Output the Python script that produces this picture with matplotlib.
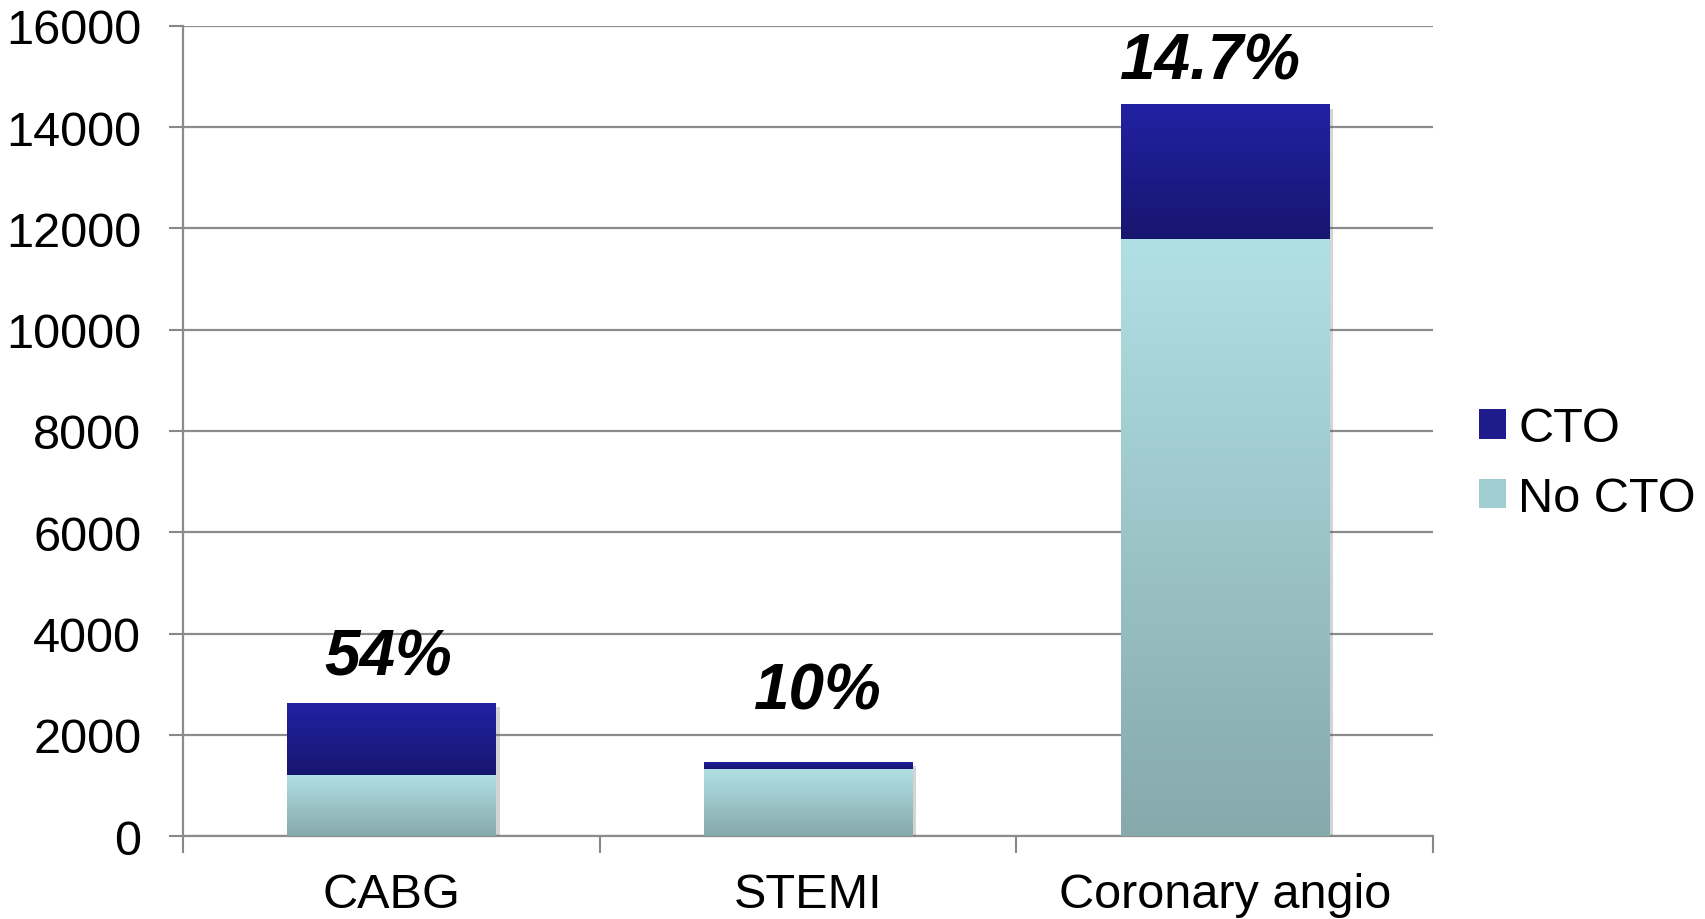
import numpy as np
import matplotlib.pyplot as plt
from matplotlib import patheffects as pe
from matplotlib.colors import LinearSegmentedColormap

plt.rcParams['font.family'] = ['Liberation Sans', 'DejaVu Sans']

# Données
categories = ["CABG", "STEMI", "Coronary angio"]
no_cto = [1210, 1314, 11800]
cto = [1420, 146, 2650]
pourcentages = ["54%", "10%", "14.7%"]

# Dégradés (haut -> bas)
cmap_cto = LinearSegmentedColormap.from_list("cto", ["#17166f", "#2221a3"])
cmap_no = LinearSegmentedColormap.from_list("no", ["#86a9ac", "#b1e0e4"])

fig = plt.figure(figsize=(17.05, 9.2), dpi=100)
ax = fig.add_axes([0.1073, 0.0902, 0.7332, 0.8805])

x = np.arange(len(categories))
largeur = 0.5

ombre = [pe.SimplePatchShadow(offset=(3, -3), shadow_rgbFace="#555555", alpha=0.25), pe.Normal()]

b1 = ax.bar(x, no_cto, largeur, color="#a0cdd1", label="No CTO", zorder=3, path_effects=ombre)
b2 = ax.bar(x, cto, largeur, bottom=no_cto, color="#1e1c8c", label="CTO", zorder=3, path_effects=ombre)

# Remplissage en dégradé vertical de chaque barre
grad = np.linspace(0, 1, 256).reshape(-1, 1)
for barres, cmap in [(b1, cmap_no), (b2, cmap_cto)]:
    for rect in barres:
        x0, y0 = rect.get_x(), rect.get_y()
        w, h = rect.get_width(), rect.get_height()
        im = ax.imshow(grad, cmap=cmap, origin="lower", aspect="auto",
                       extent=(x0, x0 + w, y0, y0 + h), zorder=4)
        im.set_clip_path(rect)

# Pourcentages au-dessus des barres
totaux = [a + b for a, b in zip(no_cto, cto)]
decal = [(-2, 33), (7, 51), (-10, 31)]
for i in range(len(categories)):
    ax.annotate(pourcentages[i], (x[i], totaux[i]), xytext=decal[i],
                textcoords="offset points", ha="center", va="center",
                fontsize=46, fontweight="bold", fontstyle="italic", zorder=5)

ax.set_xlim(-0.5, 2.5)
ax.set_ylim(0, 16000)
ax.set_yticks(np.arange(0, 16001, 2000))
ax.tick_params(axis="y", labelsize=35, length=10, width=1.5, color="#888888", pad=20)

ax.set_xticks(x)
ax.set_xticklabels(categories, fontsize=35)
ax.set_xticks([-0.5, 0.5, 1.5, 2.5], minor=True)
ax.tick_params(axis="x", which="major", length=0, pad=26)
ax.tick_params(axis="x", which="minor", length=12, width=1.5, color="#888888")

ax.grid(axis="y", color="#8c8c8c", linewidth=1.6, zorder=0)
ax.set_axisbelow(True)
for s in ["top", "right"]:
    ax.spines[s].set_visible(False)
for s in ["left", "bottom"]:
    ax.spines[s].set_color("#8c8c8c")
    ax.spines[s].set_linewidth(1.6)

handles, labels = ax.get_legend_handles_labels()
leg = ax.legend(handles[::-1], labels[::-1], loc="center left", bbox_to_anchor=(1.0, 0.46),
                frameon=False, fontsize=35, handlelength=0.55, handleheight=0.55,
                handletextpad=0.25, labelspacing=0.5, borderpad=0, borderaxespad=0.95)
for h, c in zip(leg.legend_handles, ["#1e1c8c", "#a0cdd1"]):
    h.set_path_effects([])
    h.set_facecolor(c)

fig.savefig("out.png", dpi=100)
